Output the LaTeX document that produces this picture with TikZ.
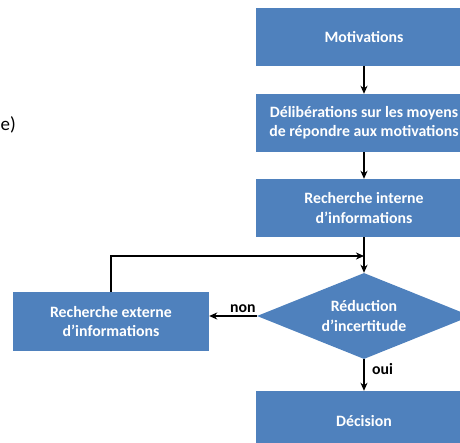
\documentclass[tikz,border=0pt]{standalone}
\usepackage{fontspec}
\setmainfont{Carlito}
\usetikzlibrary{shapes.geometric,arrows.meta}
\definecolor{boxblue}{HTML}{4F81BD}
\begin{document}
\begin{tikzpicture}[x=1pt,y=-1pt,
  stepbox/.style={rectangle, fill=boxblue, draw=none, text=white,
    font=\fontsize{15.8}{19.2}\selectfont\bfseries, align=center,
    minimum width=216pt, minimum height=58pt, inner sep=0pt},
  choice/.style={diamond, aspect=2.5, fill=boxblue, draw=none, text=white,
    font=\fontsize{15.8}{19.2}\selectfont\bfseries, align=center,
    minimum width=214pt, minimum height=86pt, inner sep=0pt},
  flow/.style={draw=black, line width=1.3pt,
    -{Stealth[length=8pt,width=7pt,inset=2.5pt]}},
  lbl/.style={font=\fontsize{15.8}{18}\selectfont\bfseries, text=black, inner sep=0pt}]
\useasboundingbox (0,0) rectangle (460,443);
\clip (0,0) rectangle (460,443);

\node[anchor=west, font=\fontsize{19}{22}\selectfont, inner sep=0pt] (frag) at (0.5,125) {e)};

\node[stepbox] (mot) at (364,37) {Motivations};
\node[stepbox] (del) at (364,123) {Délibérations sur les moyens\\de répondre aux motivations};
\node[stepbox] (rint) at (364,208) {Recherche interne\\d’informations};
\node[choice] (dia) at (364,316) {Réduction\\d’incertitude};
\node[stepbox, minimum width=196pt, minimum height=59pt] (rext) at (111,321.5) {Recherche externe\\d’informations};
\node[stepbox, minimum height=60pt] (dec) at (364,421) {Décision};

\coordinate (join) at (364,256);

\draw[flow] (mot) -- (del);
\draw[flow] (del) -- (rint);
\draw[flow] (rint) -- (dia);
\draw[flow] (rext.north) |- (join);
\draw[flow] (dia.west) -- (rext.east |- dia.west);
\node[lbl, anchor=south east] (non) at ([xshift=-1pt,yshift=3pt]dia.west) {non};
\draw[flow] (dia) -- (dec);
\node[lbl, anchor=west] (oui) at (372,369) {oui};
\end{tikzpicture}
\end{document}
